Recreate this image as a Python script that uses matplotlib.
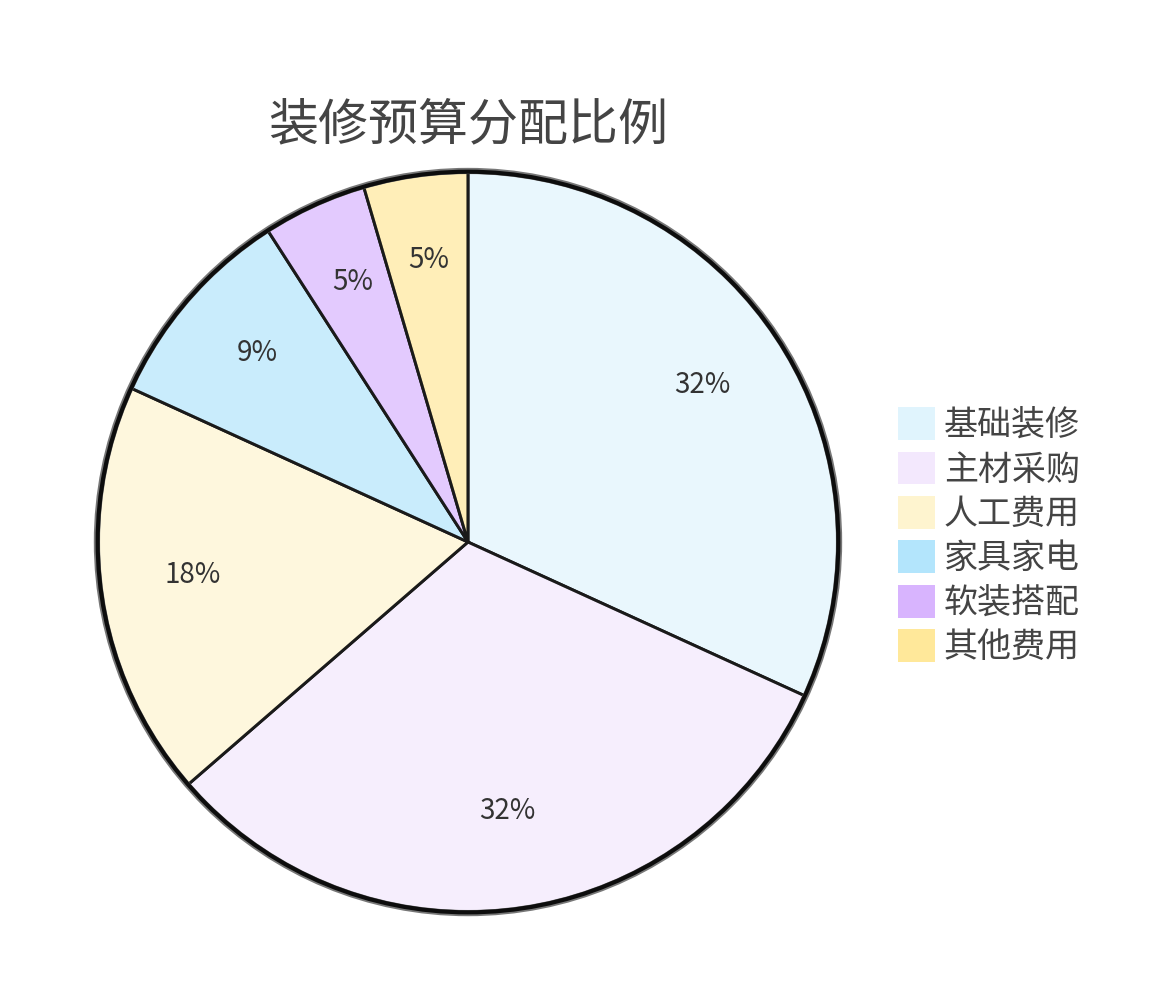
import matplotlib
matplotlib.use('Agg')
import matplotlib.pyplot as plt
from matplotlib.patches import Patch, Circle
from matplotlib.colors import to_rgba

plt.rcParams['font.family'] = ['Noto Sans CJK SC', 'DejaVu Sans']

# 数据
categories = ['基础装修', '主材采购', '人工费用', '家具家电', '软装搭配', '其他费用']
amounts = [35000, 35000, 20000, 10000, 5000, 5000]
colors = ['#e0f4fd', '#f3e8fd', '#fef4cf', '#b3e5fc', '#d8b4fe', '#ffe89a']
title = '装修预算分配比例'

fig = plt.figure(figsize=(11.76, 9.93), dpi=100)
ax = fig.add_axes([0.0761, 0.0730, 0.6437, 0.7623])

wedges, texts, autotexts = ax.pie(
    amounts, colors=[to_rgba(c, 0.7) for c in colors],
    startangle=90, counterclock=False,
    autopct='%1.0f%%', pctdistance=0.75,
    wedgeprops=dict(edgecolor='#1a1a1a', linewidth=2.1),
    textprops=dict(fontsize=20, color='#333333'))

# 百分比标签略微上移
for t in autotexts:
    x, y = t.get_position()
    t.set_position((x, y + 0.018))

# 外圈描边
ax.add_patch(Circle((0, 0), 1.0, fill=False, edgecolor='#777777', linewidth=4.5, zorder=5))
ax.add_patch(Circle((0, 0), 0.998, fill=False, edgecolor='#0d0d0d', linewidth=3, zorder=6))

ax.set_xlim(-1.02, 1.02)
ax.set_ylim(-1.02, 1.02)
ax.set_aspect('equal')
ax.axis('off')

fig.text(0.398, 0.874, title, fontsize=36, color='#444444', ha='center', va='center')

handles = [Patch(facecolor=c, edgecolor='none') for c in colors]
fig.legend(handles, categories, loc='center left', bbox_to_anchor=(0.7636, 0.460),
           frameon=False, fontsize=24.5, labelcolor='#444444',
           handlelength=1.1, handleheight=1.1, handletextpad=0.25,
           labelspacing=0.25, borderaxespad=0, borderpad=0)

fig.savefig('out.png', dpi=100)
